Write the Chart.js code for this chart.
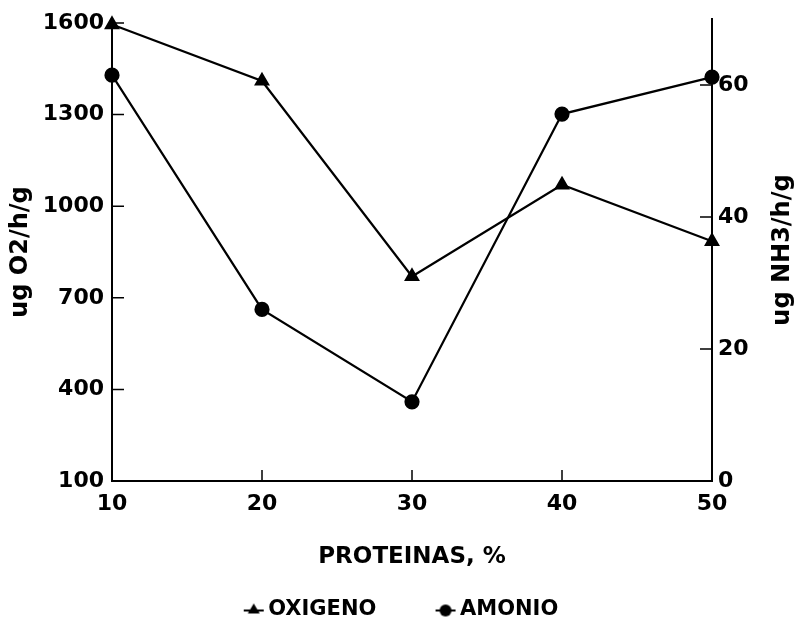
<!DOCTYPE html>
<html>
<head>
<meta charset="utf-8">
<script src="https://cdn.jsdelivr.net/npm/chart.js@4.4.1/dist/chart.umd.min.js"></script>
<style>
html, body { margin: 0; background: #fff; }
#wrap { width: 794px; height: 630px; }
</style>
</head>
<body>
<div id="wrap"><canvas id="chart" width="794" height="630"></canvas></div>
<script>
var proteinas = [10, 20, 30, 40, 50];
var oxigeno = [1595, 1410, 770, 1070, 885];
var amonio = [61.5, 26.0, 12.0, 55.6, 61.2];
var o2Ticks = [100, 400, 700, 1000, 1300, 1600];
var nh3Ticks = [0, 20, 40, 60];

function pairs(ys) {
    return proteinas.map(function(x, i) { return { x: x, y: ys[i] }; });
}

function setTicks(list) {
    return function(scale) {
        scale.ticks = list.map(function(v) { return { value: v }; });
    };
}

function plain(v) { return String(v); }

// legend marker: short line with the point symbol on it, pushed to the right
function makeMarker(style) {
    var c = document.createElement('canvas');
    c.width = 36; c.height = 16;
    var ctx = c.getContext('2d');
    ctx.strokeStyle = '#000';
    ctx.fillStyle = '#000';
    ctx.lineWidth = 2;
    ctx.beginPath();
    ctx.moveTo(15, 9); ctx.lineTo(35, 9);
    ctx.stroke();
    ctx.beginPath();
    if (style === 'triangle') {
        ctx.moveTo(25, 2); ctx.lineTo(31, 12); ctx.lineTo(19, 12);
        ctx.closePath();
    } else {
        ctx.arc(25, 9, 6, 0, Math.PI * 2);
    }
    ctx.fill();
    return c;
}

var innerTicks = {
    id: 'innerTicks',
    afterDraw: function(chart) {
        var ctx = chart.ctx, a = chart.chartArea;
        var sx = chart.scales.x, sy = chart.scales.y, sy2 = chart.scales.y2;
        ctx.save();
        ctx.strokeStyle = '#000';
        ctx.lineWidth = 1.5;
        ctx.beginPath();
        sx.ticks.forEach(function(t) {
            var px = sx.getPixelForValue(t.value);
            ctx.moveTo(px, a.bottom); ctx.lineTo(px, a.bottom - 11);
        });
        sy.ticks.forEach(function(t) {
            var py = sy.getPixelForValue(t.value);
            ctx.moveTo(a.left, py); ctx.lineTo(a.left + 12, py);
        });
        sy2.ticks.forEach(function(t) {
            var py = sy2.getPixelForValue(t.value);
            ctx.moveTo(a.right, py); ctx.lineTo(a.right - 12, py);
        });
        ctx.stroke();
        // right axis runs a little above the plot
        ctx.lineWidth = 2;
        ctx.beginPath();
        ctx.moveTo(a.right, a.top); ctx.lineTo(a.right, a.top - 5);
        ctx.stroke();
        // right axis title reads bottom to top
        ctx.translate(783, 250);
        ctx.rotate(-Math.PI / 2);
        ctx.fillStyle = '#000';
        ctx.font = 'bold 24px "DejaVu Sans"';
        ctx.textAlign = 'center';
        ctx.textBaseline = 'middle';
        ctx.fillText('ug NH3/h/g', 0, 0);
        ctx.restore();
    }
};

Chart.defaults.font.family = '"DejaVu Sans", sans-serif';
Chart.defaults.font.weight = 'bold';
Chart.defaults.color = '#000';

var markers = { triangle: makeMarker('triangle'), circle: makeMarker('circle') };

new Chart(document.getElementById('chart'), {
    type: 'line',
    data: {
        datasets: [{
            label: 'OXIGENO',
            data: pairs(oxigeno),
            yAxisID: 'y',
            borderColor: '#000',
            backgroundColor: '#000',
            borderWidth: 2.2,
            pointStyle: 'triangle',
            pointRadius: 7,
            pointBackgroundColor: '#000',
            pointBorderColor: '#000',
            clip: false
        }, {
            label: 'AMONIO',
            data: pairs(amonio),
            yAxisID: 'y2',
            borderColor: '#000',
            backgroundColor: '#000',
            borderWidth: 2.2,
            pointStyle: 'circle',
            pointRadius: 6.5,
            pointBackgroundColor: '#000',
            pointBorderColor: '#000',
            clip: false
        }]
    },
    options: {
        responsive: false,
        animation: false,
        layout: { padding: { top: 23, left: 0, right: 0, bottom: 0 } },
        plugins: {
            tooltip: { enabled: false },
            legend: {
                position: 'bottom',
                labels: {
                    usePointStyle: true,
                    pointStyleWidth: 22,
                    padding: 0,
                    font: { size: 21, weight: 'bold' },
                    generateLabels: function(chart) {
                        var items = Chart.defaults.plugins.legend.labels.generateLabels(chart);
                        items.forEach(function(it, i) {
                            it.pointStyle = markers[chart.data.datasets[i].pointStyle];
                            if (i === 0) it.text = it.text + '       ';
                        });
                        return items;
                    }
                }
            }
        },
        scales: {
            x: {
                type: 'linear',
                min: 10,
                max: 50,
                afterBuildTicks: setTicks(proteinas),
                grid: { display: false, drawTicks: false },
                border: { display: true, color: '#000', width: 2 },
                ticks: { padding: 10, callback: plain, font: { size: 22, weight: 'bold' } },
                title: { display: true, text: 'PROTEINAS, %', padding: { top: 16, bottom: 28 }, font: { size: 23, weight: 'bold' } }
            },
            y: {
                position: 'left',
                min: 100,
                max: 1600,
                afterBuildTicks: setTicks(o2Ticks),
                afterFit: function(s) { s.width = 112; },
                grid: { display: false, drawTicks: false },
                border: { display: true, color: '#000', width: 2 },
                ticks: { padding: 8, callback: plain, font: { size: 22, weight: 'bold' } },
                title: { display: true, text: 'ug O2/h/g', padding: { top: 6 }, font: { size: 24, weight: 'bold' } }
            },
            y2: {
                position: 'right',
                min: 0,
                max: 69.4,
                afterBuildTicks: setTicks(nh3Ticks),
                afterFit: function(s) { s.width = 82; },
                grid: { display: false, drawTicks: false },
                border: { display: true, color: '#000', width: 2 },
                ticks: { padding: 6, callback: plain, font: { size: 22, weight: 'bold' } }
            }
        }
    },
    plugins: [innerTicks]
});
</script>
</body>
</html>
